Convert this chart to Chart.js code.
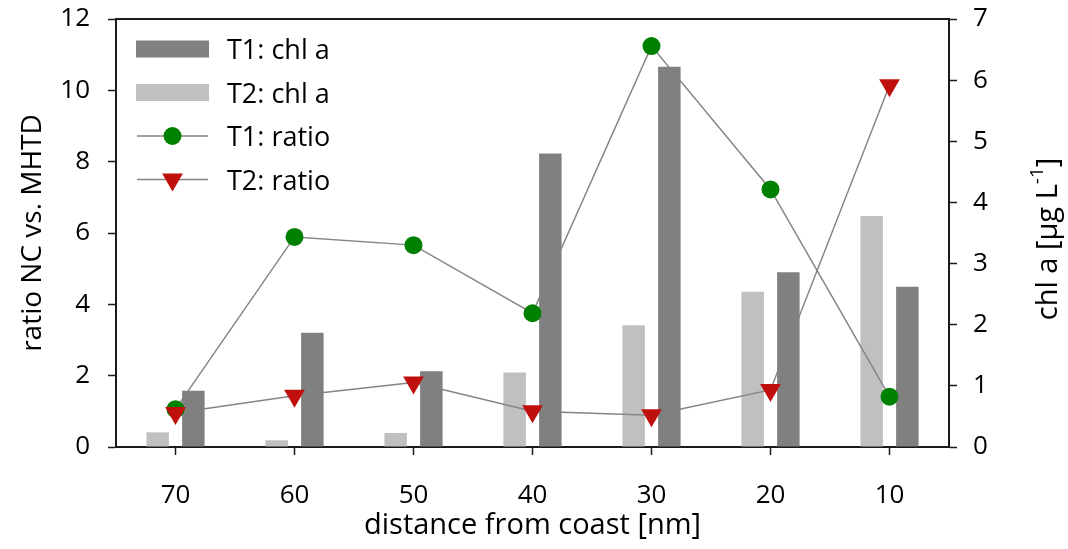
<!DOCTYPE html>
<html>
<head>
<meta charset="utf-8">
<script src="https://cdn.jsdelivr.net/npm/chart.js@4.4.1/dist/chart.umd.min.js"></script>
<style>
  html, body { margin: 0; padding: 0; background: #fff; }
  #wrap { width: 1068px; height: 549px; position: relative; }
</style>
</head>
<body>
<div id="wrap"><canvas id="chart"></canvas></div>
<script>
// distance from coast [nm]
const distances = ['70', '60', '50', '40', '30', '20', '10'];
// chl a [µg L-1] (right axis, bars)
const t1Chl = [0.92, 1.87, 1.24, 4.80, 6.22, 2.86, 2.62];
const t2Chl = [0.24, 0.11, 0.23, 1.22, 1.99, 2.54, 3.78];
// ratio NC vs. MHTD (left axis, lines)
const t1Ratio = [1.06, 5.89, 5.66, 3.75, 11.24, 7.22, 1.41];
const t2Ratio = [0.95, 1.44, 1.81, 1.00, 0.89, 1.60, 10.14];

const FONT = "'Open Sans', sans-serif";
const AXIS = '#1a1a1a';
const GREY_DARK = '#808080';
const GREY_LIGHT = '#c0c0c0';
const GREEN = '#008000';
const RED = '#c0100e';
const LINE = '#858585';

const IDX_T2_BAR = 2;

// T2 bars go first so the lines run over them but under the T1 bars
const drawOrder = {
    id: 'drawOrder',
    beforeDatasetsDraw(chart) {
        const meta = chart.getDatasetMeta(IDX_T2_BAR);
        if (meta.visible) meta.controller.draw();
    },
    beforeDatasetDraw(chart, args) {
        if (args.index === IDX_T2_BAR) return false;
    }
};

// top frame line + legend + right axis title
const decorations = {
    id: 'decorations',
    afterDraw(chart) {
        const { ctx, chartArea } = chart;
        const ds = chart.data.datasets;

        ctx.save();
        ctx.strokeStyle = AXIS;
        ctx.lineWidth = 2;
        ctx.beginPath();
        ctx.moveTo(chartArea.left - 1, chartArea.top);
        ctx.lineTo(chartArea.right + 1, chartArea.top);
        ctx.stroke();

        // --- legend ---
        const items = [
            { text: 'T1: chl a', kind: 'bar', color: ds[3].backgroundColor },
            { text: 'T2: chl a', kind: 'bar', color: ds[2].backgroundColor },
            { text: 'T1: ratio', kind: 'point', style: ds[1].pointStyle, radius: ds[1].pointRadius, rotation: 0, color: ds[1].pointBackgroundColor },
            { text: 'T2: ratio', kind: 'point', style: ds[0].pointStyle, radius: ds[0].pointRadius, rotation: ds[0].rotation, color: ds[0].pointBackgroundColor }
        ];
        const x0 = chartArea.left + 20;
        const y0 = chartArea.top + 30;
        ctx.font = `27px ${FONT}`;
        ctx.textBaseline = 'alphabetic';
        ctx.textAlign = 'left';
        items.forEach((it, i) => {
            const cy = y0 + i * 43.5;
            if (it.kind === 'bar') {
                ctx.fillStyle = it.color;
                ctx.fillRect(x0, cy - 8.5, 73, 17);
            } else {
                ctx.strokeStyle = LINE;
                ctx.lineWidth = 1.5;
                ctx.beginPath();
                ctx.moveTo(x0 + 1, cy);
                ctx.lineTo(x0 + 72, cy);
                ctx.stroke();
                ctx.fillStyle = it.color;
                Chart.helpers.drawPoint(ctx, { pointStyle: it.style, radius: it.radius, rotation: it.rotation, borderWidth: 0 }, x0 + 36.5, cy);
            }
            ctx.fillStyle = '#000';
            ctx.fillText(it.text, x0 + 91, cy + 10);
        });

        // --- right axis title, read bottom to top ---
        const main = 'chl a [µg L';
        const sup = '-1';
        const close = ']';
        const fMain = `29px ${FONT}`;
        const fSup = `19px ${FONT}`;
        ctx.font = fMain;
        const wMain = ctx.measureText(main).width;
        const wClose = ctx.measureText(close).width;
        ctx.font = fSup;
        const wSup = ctx.measureText(sup).width;
        const total = wMain + wSup + wClose;
        ctx.translate(chartArea.right + 100, (chartArea.top + chartArea.bottom) / 2 + 6);
        ctx.rotate(-Math.PI / 2);
        ctx.fillStyle = '#000';
        ctx.textBaseline = 'middle';
        let tx = -total / 2;
        ctx.font = fMain;
        ctx.fillText(main, tx, 0);
        tx += wMain;
        ctx.font = fSup;
        ctx.fillText(sup, tx, -11);
        tx += wSup;
        ctx.font = fMain;
        ctx.fillText(close, tx, 0);
        ctx.restore();
    }
};

const fixY = (w) => (s) => {
    s.width = w;
    s.paddingTop = 0;
    s.paddingBottom = 0;
};

const ctx = document.getElementById('chart').getContext('2d');
new Chart(ctx, {
    type: 'bar',
    data: {
        labels: distances,
        datasets: [
            {
                type: 'line', label: 'T2: ratio', data: t2Ratio, yAxisID: 'y', order: 0,
                showLine: false, pointStyle: 'triangle', rotation: 180, pointRadius: 12,
                pointBackgroundColor: RED, pointBorderWidth: 0, borderColor: RED
            },
            {
                type: 'line', label: 'T1: ratio', data: t1Ratio, yAxisID: 'y', order: 0,
                showLine: false, pointStyle: 'circle', pointRadius: 9,
                pointBackgroundColor: GREEN, pointBorderWidth: 0, borderColor: GREEN
            },
            {
                label: 'T2: chl a', data: t2Chl, yAxisID: 'y1', order: 1,
                backgroundColor: GREY_LIGHT, borderWidth: 0,
                categoryPercentage: 0.6, barPercentage: 0.63
            },
            {
                label: 'T1: chl a', data: t1Chl, yAxisID: 'y1', order: 2,
                backgroundColor: GREY_DARK, borderWidth: 0,
                categoryPercentage: 0.6, barPercentage: 0.63
            },
            {
                type: 'line', label: 'T1 line', data: t1Ratio, yAxisID: 'y', order: 3,
                borderColor: LINE, borderWidth: 1.5, pointRadius: 0, tension: 0
            },
            {
                type: 'line', label: 'T2 line', data: t2Ratio, yAxisID: 'y', order: 3,
                borderColor: LINE, borderWidth: 1.5, pointRadius: 0, tension: 0
            }
        ]
    },
    options: {
        responsive: true,
        maintainAspectRatio: false,
        animation: false,
        events: [],
        layout: { padding: { top: 19, left: 0, right: 0, bottom: 0 } },
        plugins: {
            legend: { display: false },
            tooltip: { enabled: false }
        },
        scales: {
            x: {
                type: 'category',
                offset: true,
                afterFit(s) { s.height = 102; },
                grid: { offset: false, drawOnChartArea: false, drawTicks: true, tickLength: 8, tickColor: AXIS, tickWidth: 1.5 },
                border: { display: true, color: AXIS, width: 2 },
                ticks: { color: '#000', font: { family: FONT, size: 26 }, padding: 25, maxRotation: 0 },
                title: { display: true, text: 'distance from coast [nm]', color: '#000', font: { family: FONT, size: 29 }, padding: { top: 0, bottom: 6 } }
            },
            y: {
                position: 'left',
                min: 0, max: 12,
                afterFit: fixY(116),
                grid: { drawOnChartArea: false, drawTicks: true, tickLength: 8, tickColor: AXIS, tickWidth: 1.5 },
                border: { display: true, color: AXIS, width: 2 },
                ticks: { stepSize: 2, color: '#000', font: { family: FONT, size: 26 }, padding: 18 },
                title: { display: true, text: 'ratio NC vs. MHTD', color: '#000', font: { family: FONT, size: 28 }, padding: { top: 16, bottom: 0 } }
            },
            y1: {
                position: 'right',
                min: 0, max: 7,
                afterFit: fixY(119),
                grid: { drawOnChartArea: false, drawTicks: true, tickLength: 8, tickColor: AXIS, tickWidth: 1.5 },
                border: { display: true, color: AXIS, width: 2 },
                ticks: { stepSize: 1, color: '#000', font: { family: FONT, size: 26 }, padding: 16 }
            }
        }
    },
    plugins: [drawOrder, decorations]
});
</script>
</body>
</html>
